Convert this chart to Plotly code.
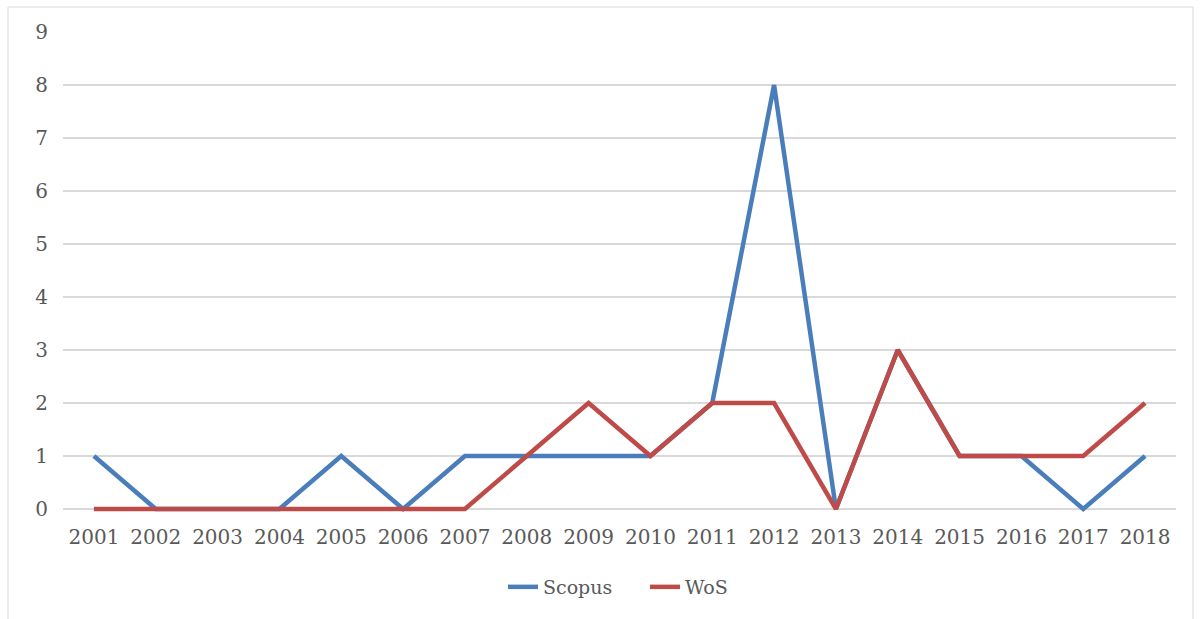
import plotly.graph_objects as go

years = [str(y) for y in range(2001, 2019)]
scopus = [1, 0, 0, 0, 1, 0, 1, 1, 1, 1, 2, 8, 0, 3, 1, 1, 0, 1]
wos = [0, 0, 0, 0, 0, 0, 0, 1, 2, 1, 2, 2, 0, 3, 1, 1, 1, 2]
y_ticks = list(range(0, 10))

FONT = "DejaVu Serif"
PB = 512  # plot-area bottom in px
PH = PB - 32
fig = go.Figure()
fig.add_trace(go.Scatter(x=years, y=scopus, mode="lines", name="Scopus",
                         line=dict(color="#4A7EBB", width=4.5)))
fig.add_trace(go.Scatter(x=years, y=wos, mode="lines", name="WoS",
                         line=dict(color="#BE4B48", width=4.5)))

fig.update_layout(
    width=1201, height=619,
    margin=dict(l=63, r=25, t=32, b=619 - PB, autoexpand=False),
    paper_bgcolor="white", plot_bgcolor="white",
    font=dict(family=FONT, size=20, color="#595959"),
    showlegend=True,
    legend=dict(orientation="h", x=(503 - 63) / 1113, xanchor="left",
                y=-(587 - PB) / PH, yanchor="middle",
                font=dict(size=19, color="#595959"), itemwidth=30,
                entrywidth=97, entrywidthmode="pixels"),
    shapes=[dict(type="rect", xref="paper", yref="paper",
                 x0=(8 - 63) / 1113, x1=(1193 - 63) / 1113,
                 y0=-0.3, y1=(PB - 7) / PH,
                 line=dict(color="#D9D9D9", width=1), fillcolor="rgba(0,0,0,0)",
                 layer="below")],
)
fig.update_xaxes(type="category", range=[-0.5, 17.5], showgrid=False,
                 showline=False, zeroline=False, ticks="", ticklabelstandoff=11,
                 tickfont=dict(size=20, color="#595959"))
fig.update_yaxes(range=[-3 / 53, 9], tickvals=y_ticks, showgrid=True, gridcolor="#D9D9D9",
                 gridwidth=1.5, zeroline=False, showline=False, ticks="",
                 ticklabelstandoff=14, tickfont=dict(size=20, color="#595959"))

fig.write_html("out.html")
